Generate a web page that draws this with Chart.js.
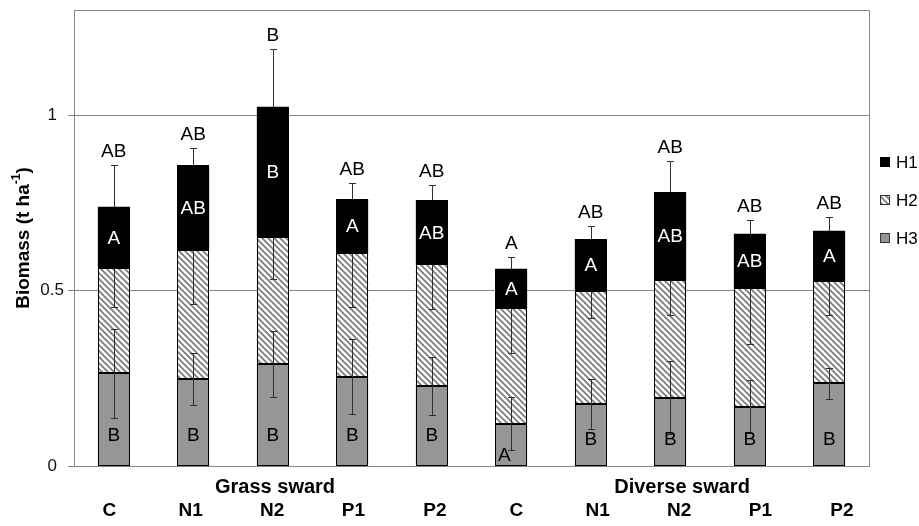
<!DOCTYPE html>
<html>
<head>
<meta charset="utf-8">
<script src="https://cdn.jsdelivr.net/npm/chart.js@4.4.0/dist/chart.umd.min.js"></script>
<style>
  html, body { margin: 0; padding: 0; background: #fff; }
  #wrap { width: 919px; height: 526px; }
</style>
</head>
<body>
<div id="wrap"><canvas id="biomass"></canvas></div>
<script>
'use strict';

// treatments, grass sward first then diverse sward
var treatments = ['C', 'N1', 'N2', 'P1', 'P2', 'C', 'N1', 'N2', 'P1', 'P2'];
var swards = ['Grass sward', 'Diverse sward'];

// biomass per height layer (t/ha), stacked H3 at the bottom
var h3 = [0.264, 0.248, 0.291, 0.255, 0.228, 0.121, 0.177, 0.194, 0.169, 0.236];
var h2 = [0.301, 0.368, 0.363, 0.351, 0.347, 0.329, 0.323, 0.336, 0.338, 0.292];
var h1 = [0.174, 0.241, 0.370, 0.155, 0.182, 0.112, 0.147, 0.250, 0.155, 0.143];

// error bars
var errH1 = [0.118, 0.049, 0.165, 0.047, 0.043, 0.033, 0.036, 0.090, 0.039, 0.038];
var errH2 = [0.112, 0.153, 0.122, 0.153, 0.128, 0.127, 0.079, 0.099, 0.160, 0.098];
var errH3 = [0.127, 0.073, 0.094, 0.106, 0.084, 0.075, 0.072, 0.104, 0.075, 0.044];

// significance letters
var totalLetters = ['AB', 'AB', 'B', 'AB', 'AB', 'A', 'AB', 'AB', 'AB', 'AB'];
var h1Letters = ['A', 'AB', 'B', 'A', 'AB', 'A', 'A', 'AB', 'AB', 'A'];
var h3Letters = ['B', 'B', 'B', 'B', 'B', 'A', 'B', 'B', 'B', 'B'];

var yTicks = [0, 0.5, 1];

var FONT = "'Liberation Sans', Arial, sans-serif";
var GRID = '#868686';

function makeHatch() {
    var c = document.createElement('canvas');
    c.width = 6; c.height = 6;
    var g = c.getContext('2d');
    g.fillStyle = '#fff';
    g.fillRect(0, 0, 6, 6);
    g.strokeStyle = '#7a7a7a';
    g.lineWidth = 1.7;
    g.beginPath();
    g.moveTo(-1, -1); g.lineTo(7, 7);
    g.moveTo(-1, 5); g.lineTo(1, 7);
    g.moveTo(5, -1); g.lineTo(7, 1);
    g.stroke();
    return g.createPattern(c, 'repeat');
}
var hatch = makeHatch();

var series = [
    { label: 'H3', data: h3, err: errH3, color: '#969696' },
    { label: 'H2', data: h2, err: errH2, color: hatch },
    { label: 'H1', data: h1, err: errH1, color: '#000' }
];

var overlay = {
    id: 'overlay',
    afterDatasetsDraw(chart) {
        var ctx = chart.ctx;
        var ys = chart.scales.y;
        var xs = chart.scales.x;
        var base = ys.getPixelForValue(0);
        ctx.save();

        // crisp black outline round every segment
        ctx.strokeStyle = '#000';
        ctx.lineWidth = 1;
        chart.data.datasets.forEach(function (ds, d) {
            chart.getDatasetMeta(d).data.forEach(function (el) {
                var l = Math.round(el.x - el.width / 2) + 0.5;
                var r = Math.round(el.x + el.width / 2) - 0.5;
                var t = Math.round(el.y) + 0.5;
                var b = Math.round(el.base) - 0.5;
                ctx.strokeRect(l, t, r - l, b - t);
            });
        });

        // error bars
        ctx.strokeStyle = '#303030';
        for (var i = 0; i < treatments.length; i++) {
            var x = Math.round(xs.getPixelForValue(i)) + 0.5;
            var c3 = h3[i], c2 = c3 + h2[i], c1 = c2 + h1[i];
            var bars = [
                [c3, c3 - errH3[i], c3 + errH3[i]],
                [c2, c2 - errH2[i], c2],
                [c1, c1, c1 + errH1[i]]
            ];
            bars.forEach(function (b) {
                var lo = Math.round(ys.getPixelForValue(b[1])) + 0.5;
                var hi = Math.round(ys.getPixelForValue(b[2])) + 0.5;
                ctx.beginPath();
                ctx.moveTo(x, lo); ctx.lineTo(x, hi);
                if (b[1] < b[0]) { ctx.moveTo(x - 3.5, lo); ctx.lineTo(x + 3.5, lo); }
                if (b[2] > b[0]) { ctx.moveTo(x - 3.5, hi); ctx.lineTo(x + 3.5, hi); }
                ctx.stroke();
            });
        }

        // letters
        ctx.font = '19px ' + FONT;
        ctx.textAlign = 'center';
        for (var j = 0; j < treatments.length; j++) {
            var bx = xs.getPixelForValue(j);
            var t3 = h3[j], t2 = t3 + h2[j], t1 = t2 + h1[j];
            ctx.fillStyle = '#000';
            ctx.textBaseline = 'alphabetic';
            ctx.fillText(totalLetters[j], bx, ys.getPixelForValue(t1 + errH1[j]) - 8);
            ctx.fillStyle = '#fff';
            ctx.textBaseline = 'middle';
            ctx.fillText(h1Letters[j], bx, (ys.getPixelForValue(t1) + ys.getPixelForValue(t2)) / 2 + 1);
            ctx.fillStyle = '#000';
            if (j === 5) {
                ctx.fillText(h3Letters[j], bx - 7, base - 10);
            } else {
                ctx.fillText(h3Letters[j], bx, base - (j < 5 ? 30 : 26));
            }
        }
        ctx.restore();
    },
    afterDraw(chart) {
        var ctx = chart.ctx;
        var a = chart.chartArea;
        var xs = chart.scales.x;
        ctx.save();

        // frame top and right
        ctx.strokeStyle = GRID;
        ctx.lineWidth = 1;
        ctx.beginPath();
        ctx.moveTo(a.left, Math.round(a.top) + 0.5);
        ctx.lineTo(Math.round(a.right) + 0.5, Math.round(a.top) + 0.5);
        ctx.lineTo(Math.round(a.right) + 0.5, a.bottom);
        ctx.stroke();

        // category labels (Excel table spacing is a bit wider than the bars)
        ctx.fillStyle = '#000';
        ctx.font = 'bold 19px ' + FONT;
        ctx.textAlign = 'center';
        ctx.textBaseline = 'middle';
        var lx = treatments.map(function (t, i) { return xs.getPixelForValue(i) - 4.5 + 1.9 * i; });
        treatments.forEach(function (t, i) { ctx.fillText(t, lx[i], 511); });
        ctx.font = 'bold 20px ' + FONT;
        swards.forEach(function (s, k) {
            var m = 0;
            for (var i = k * 5; i < k * 5 + 5; i++) m += lx[i];
            ctx.fillText(s, m / 5 + 3, 487);
        });

        // y axis title with superscript
        ctx.save();
        ctx.translate(24, (a.top + a.bottom) / 2);
        ctx.rotate(-Math.PI / 2);
        var main = 'Biomass (t ha', sup = '-1', close = ')';
        ctx.font = 'bold 19px ' + FONT;
        var w1 = ctx.measureText(main).width, w3 = ctx.measureText(close).width;
        ctx.font = 'bold 12px ' + FONT;
        var w2 = ctx.measureText(sup).width;
        var sx = -(w1 + w2 + w3) / 2;
        ctx.textAlign = 'left';
        ctx.textBaseline = 'middle';
        ctx.font = 'bold 19px ' + FONT;
        ctx.fillText(main, sx, 0);
        ctx.font = 'bold 12px ' + FONT;
        ctx.fillText(sup, sx + w1, -7);
        ctx.font = 'bold 19px ' + FONT;
        ctx.fillText(close, sx + w1 + w2, 0);
        ctx.restore();

        // legend, H1 on top
        ctx.font = '17px ' + FONT;
        ctx.textAlign = 'left';
        ctx.textBaseline = 'middle';
        var order = [2, 1, 0];
        order.forEach(function (d, k) {
            var cy = 162 + k * 38;
            ctx.fillStyle = series[d].color;
            ctx.fillRect(880, cy - 5, 10, 10);
            ctx.strokeStyle = d === 2 ? '#000' : '#333';
            ctx.strokeRect(880.5, cy - 4.5, 9, 9);
            ctx.fillStyle = '#000';
            ctx.fillText(series[d].label, 896, cy + 1);
        });
        ctx.restore();
    }
};

new Chart(document.getElementById('biomass'), {
    type: 'bar',
    data: {
        labels: treatments,
        datasets: series.map(function (s) {
            return {
                label: s.label,
                data: s.data,
                backgroundColor: s.color,
                borderWidth: 0,
                inflateAmount: 0,
                barPercentage: 0.4,
                categoryPercentage: 1
            };
        })
    },
    options: {
        responsive: true,
        maintainAspectRatio: false,
        animation: false,
        layout: { padding: { top: 10, right: 50, left: 0, bottom: 0 } },
        plugins: {
            legend: { display: false },
            tooltip: { enabled: false }
        },
        scales: {
            x: {
                stacked: true,
                grid: { display: false },
                border: { color: GRID },
                ticks: { display: false },
                afterFit: function (s) { s.height = 60; s.paddingLeft = 0; s.paddingRight = 0; }
            },
            y: {
                stacked: true,
                min: 0,
                max: 1.3,
                afterFit: function (s) { s.width = 74; s.paddingTop = 0; s.paddingBottom = 0; },
                afterBuildTicks: function (s) { s.ticks = yTicks.map(function (v) { return { value: v }; }); },
                grid: { color: GRID, tickLength: 6 },
                border: { color: GRID },
                ticks: {
                    crossAlign: 'center',
                    padding: 4,
                    color: '#111',
                    font: { family: FONT, size: 17 },
                    callback: function (v) { return String(v); }
                }
            }
        }
    },
    plugins: [overlay]
});
</script>
</body>
</html>
